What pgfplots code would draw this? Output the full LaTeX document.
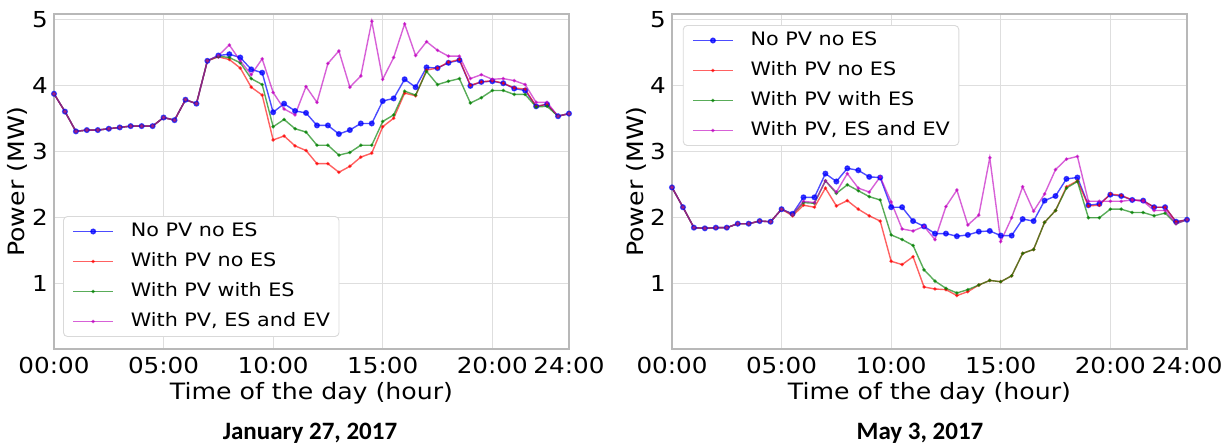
\documentclass[border=0pt]{standalone}
\usepackage{fontspec}
\setmainfont{DejaVu Sans}[FakeStretch=1.12]
\newfontfamily\capfont{Carlito}
\usepackage{pgfplots}
\usepackage{pgfplotstable}
\pgfplotsset{compat=1.18}

\definecolor{cB}{RGB}{0,0,255}
\definecolor{cR}{RGB}{255,0,0}
\definecolor{cG}{RGB}{0,128,0}
\definecolor{cM}{RGB}{191,0,191}

% Jan 27, 2017 (index = half-hour slot)
\pgfplotstableread{
i nb pr pg pm
0 3.87 3.87 3.87 3.87
1 3.60 3.60 3.60 3.60
2 3.30 3.30 3.30 3.30
3 3.32 3.32 3.32 3.32
4 3.32 3.32 3.32 3.32
5 3.34 3.34 3.34 3.34
6 3.36 3.36 3.36 3.36
7 3.38 3.38 3.38 3.38
8 3.38 3.38 3.38 3.38
9 3.38 3.38 3.38 3.38
10 3.51 3.51 3.51 3.51
11 3.47 3.47 3.47 3.47
12 3.78 3.78 3.78 3.78
13 3.72 3.72 3.72 3.72
14 4.37 4.37 4.37 4.37
15 4.45 4.43 4.44 4.45
16 4.47 4.39 4.42 4.61
17 4.42 4.26 4.34 4.37
18 4.24 3.97 4.10 4.16
19 4.19 3.85 4.01 4.40
20 3.59 3.17 3.37 3.89
21 3.72 3.23 3.48 3.64
22 3.61 3.08 3.34 3.55
23 3.58 3.01 3.29 3.98
24 3.39 2.81 3.09 3.74
25 3.39 2.81 3.09 4.33
26 3.26 2.68 2.94 4.52
27 3.32 2.77 2.98 3.97
28 3.42 2.91 3.09 4.14
29 3.42 2.97 3.09 4.97
30 3.76 3.37 3.45 4.09
31 3.80 3.50 3.55 4.42
32 4.09 3.88 3.91 4.93
33 3.97 3.84 3.85 4.45
34 4.27 4.23 4.21 4.66
35 4.26 4.26 4.01 4.53
36 4.34 4.35 4.06 4.44
37 4.38 4.39 4.10 4.44
38 3.99 4.00 3.73 4.10
39 4.05 4.05 3.81 4.16
40 4.06 4.07 3.92 4.09
41 4.03 4.03 3.92 4.10
42 3.95 3.96 3.86 4.07
43 3.92 3.94 3.86 4.01
44 3.68 3.68 3.67 3.74
45 3.71 3.71 3.68 3.74
46 3.53 3.53 3.53 3.53
47 3.57 3.57 3.57 3.57
}\jan

% May 3, 2017
\pgfplotstableread{
i nb pr pg pm
0 2.45 2.45 2.45 2.45
1 2.15 2.15 2.15 2.15
2 1.84 1.84 1.84 1.84
3 1.83 1.83 1.83 1.83
4 1.84 1.84 1.84 1.84
5 1.84 1.84 1.84 1.84
6 1.90 1.90 1.90 1.90
7 1.90 1.90 1.90 1.90
8 1.94 1.94 1.94 1.94
9 1.93 1.93 1.93 1.93
10 2.12 2.12 2.12 2.12
11 2.05 2.02 2.04 2.04
12 2.30 2.18 2.22 2.24
13 2.30 2.15 2.21 2.22
14 2.66 2.44 2.55 2.55
15 2.54 2.17 2.36 2.38
16 2.74 2.25 2.49 2.66
17 2.71 2.12 2.40 2.44
18 2.61 2.02 2.31 2.38
19 2.60 1.94 2.26 2.61
20 2.15 1.33 1.73 2.23
21 2.15 1.28 1.66 1.82
22 1.94 1.40 1.57 1.79
23 1.86 0.94 1.20 1.86
24 1.75 0.91 1.03 1.66
25 1.75 0.90 0.92 2.16
26 1.71 0.81 0.85 2.41
27 1.73 0.87 0.90 1.88
28 1.78 0.97 0.97 2.03
29 1.79 1.04 1.04 2.90
30 1.72 1.02 1.02 1.63
31 1.72 1.11 1.11 1.99
32 1.97 1.45 1.45 2.46
33 1.94 1.51 1.51 2.09
34 2.25 1.92 1.92 2.35
35 2.32 2.10 2.10 2.72
36 2.58 2.46 2.44 2.88
37 2.60 2.55 2.54 2.92
38 2.18 2.17 1.99 2.24
39 2.20 2.18 1.99 2.24
40 2.34 2.35 2.12 2.24
41 2.32 2.33 2.12 2.24
42 2.26 2.26 2.07 2.26
43 2.25 2.25 2.07 2.24
44 2.15 2.15 2.02 2.10
45 2.15 2.15 2.06 2.10
46 1.93 1.93 1.90 1.90
47 1.96 1.96 1.96 1.96
}\may

\pgfplotsset{
  pw/.style={
    scale only axis, width=515pt, height=335pt,
    xmin=0, xmax=47, ymin=0, ymax=5.08,
    xtick={0,10,20,30,40,47},
    xticklabels={00:00,05:00,10:00,15:00,20:00,24:00},
    ytick={1,2,3,4,5},
    grid=major,
    major grid style={draw=black!13, line width=0.9pt},
    axis line style={draw=black!28, line width=1.1pt},
    major tick length=0pt,
    /pgf/number format/assume math mode=true,
    tick label style={font=\fontsize{22}{24}\selectfont, inner sep=0pt},
    xticklabel style={anchor=center, yshift=-16pt},
    yticklabel style={anchor=east, xshift=-6pt},
    every axis x label/.style={at={(axis description cs:0.5,-0.131)}, anchor=center},
    every axis y label/.style={at={(axis description cs:-0.070,0.5)}, rotate=90, anchor=center},
    label style={font=\fontsize{22.5}{25}\selectfont},
    xlabel={Time of the day (hour)},
    ylabel={Power (MW)},
    legend cell align=left,
    legend image code/.code={\draw[#1, mark repeat=2, mark phase=2] plot coordinates {(0pt,0pt) (20pt,0pt) (40pt,0pt)};},
    legend style={draw=black!15, fill=white, rounded corners=4pt, line width=0.9pt,
      font=\fontsize{18.5}{20}\selectfont, inner xsep=9pt, inner ysep=6pt,
      nodes={inner sep=0pt, text height=14pt, text depth=4pt},
      row sep=12pt,
      /tikz/every odd column/.append style={column sep=17pt}},
  },
  sb/.style={cB, opacity=0.7, line width=1.4pt, mark=*, mark size=2.3pt},
  sr/.style={cR, opacity=0.62, line width=1.4pt, mark=*, mark size=1pt},
  sg/.style={cG, opacity=0.65, line width=1.4pt, mark=*, mark size=1pt},
  sm/.style={cM, opacity=0.62, line width=1.4pt, mark=*, mark size=1pt},
}

\begin{document}
\begin{tikzpicture}
\path[use as bounding box] (0,0) rectangle (1228pt,447pt);

\begin{axis}[pw, at={(54pt,98pt)}, anchor=south west,
  legend style={at={(0.0175,0.036)}, anchor=south west}]
\addplot[sb] table[x=i, y=nb] {\jan};
\addlegendentry{No PV no ES}
\addplot[sr] table[x=i, y=pr] {\jan};
\addlegendentry{With PV no ES}
\addplot[sg] table[x=i, y=pg] {\jan};
\addlegendentry{With PV with ES}
\addplot[sm] table[x=i, y=pm] {\jan};
\addlegendentry{With PV, ES and EV}
\end{axis}

\begin{axis}[pw, at={(672pt,98pt)}, anchor=south west,
  legend style={at={(0.021,0.967)}, anchor=north west}]
\addplot[sb] table[x=i, y=nb] {\may};
\addlegendentry{No PV no ES}
\addplot[sr] table[x=i, y=pr] {\may};
\addlegendentry{With PV no ES}
\addplot[sg] table[x=i, y=pg] {\may};
\addlegendentry{With PV with ES}
\addplot[sm] table[x=i, y=pm] {\may};
\addlegendentry{With PV, ES and EV}
\end{axis}

\node[font=\capfont\bfseries\fontsize{25}{28}\selectfont] at (310pt,14pt) {January 27, 2017};
\node[font=\capfont\bfseries\fontsize{25}{28}\selectfont] at (920pt,14pt) {May 3, 2017};
\end{tikzpicture}
\end{document}
